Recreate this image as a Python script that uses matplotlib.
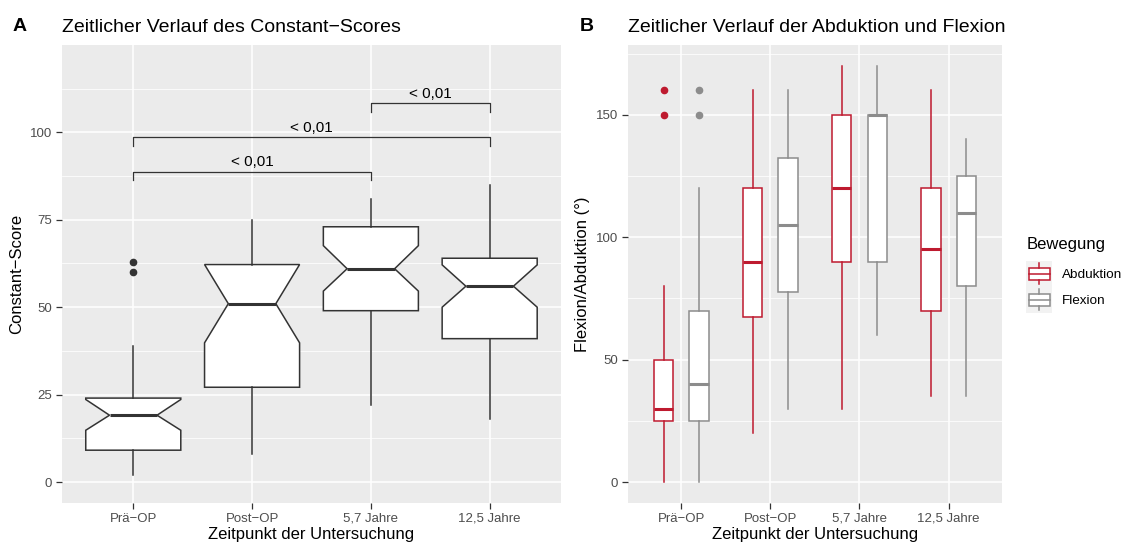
import matplotlib.pyplot as plt
from matplotlib.patches import Patch, Rectangle
from matplotlib.lines import Line2D
from matplotlib.legend_handler import HandlerBase

plt.rcParams['font.family'] = ['Liberation Sans', 'DejaVu Sans']

# Zeitpunkte der Untersuchung
zeitpunkte = ['Prä−OP', 'Post−OP', '5,7 Jahre', '12,5 Jahre']

# Constant-Score: Kennwerte der gekerbten Boxplots
cs_q1 = [9.1, 27.1, 49.0, 41.0]
cs_med = [19.1, 51.0, 61.0, 56.0]
cs_q3 = [24.0, 62.2, 73.0, 64.0]
cs_cilo = [14.8, 39.8, 54.6, 50.0]
cs_cihi = [23.6, 62.2, 67.6, 62.1]
cs_whislo = [2.1, 8.1, 22.1, 18.1]
cs_whishi = [39.0, 75.0, 80.8, 84.9]
cs_fliers = [[60.0, 63.0], [], [], []]

# Signifikanzklammern (Gruppe links, Gruppe rechts, Höhe, Beschriftung)
sig_links = [1, 1, 3]
sig_rechts = [3, 4, 4]
sig_hoehe = [88.8, 98.7, 108.4]
sig_text = ['< 0,01', '< 0,01', '< 0,01']

# Abduktion und Flexion in Grad
abd_q1 = [25, 67.5, 90, 70]
abd_med = [30, 90, 120, 95]
abd_q3 = [50, 120, 150, 120]
abd_whislo = [0, 20, 30, 35]
abd_whishi = [80, 160, 170, 160]
abd_fliers = [[150, 160], [], [], []]

flex_q1 = [25, 77.5, 90, 80]
flex_med = [40, 105, 150, 110]
flex_q3 = [70, 132.5, 150, 125]
flex_whislo = [0, 30, 60, 35]
flex_whishi = [120, 160, 170, 140]
flex_fliers = [[150, 160], [], [], []]

ROT = '#BE1A2F'
GRAU = '#8C8C8C'
DUNKEL = '#333333'


def style_axes(ax):
    ax.set_facecolor('#EBEBEB')
    for s in ax.spines.values():
        s.set_visible(False)
    ax.grid(which='major', color='white', linewidth=1.1)
    ax.grid(which='minor', color='white', linewidth=0.55)
    ax.set_axisbelow(True)
    ax.tick_params(which='major', length=4, width=0.9, color=DUNKEL,
                   labelcolor='#4D4D4D', labelsize=9.5, pad=3)
    ax.tick_params(which='minor', length=0)
    ax.set_xlim(0.4, 4.6)
    ax.set_xticks(range(1, 5))
    ax.set_xticklabels(zeitpunkte)
    ax.set_xlabel('Zeitpunkt der Untersuchung', fontsize=12, labelpad=2)


def make_stats(q1, med, q3, lo, hi, fl, cilo=None, cihi=None):
    stats = []
    for i in range(len(q1)):
        d = dict(q1=q1[i], med=med[i], q3=q3[i], whislo=lo[i], whishi=hi[i], fliers=fl[i])
        if cilo is not None:
            d['cilo'] = cilo[i]
            d['cihi'] = cihi[i]
        stats.append(d)
    return stats


def draw_boxes(ax, stats, pos, width, color, notch=False):
    ax.bxp(stats, positions=pos, widths=width, shownotches=notch, showcaps=False,
           patch_artist=True, manage_ticks=False,
           boxprops=dict(facecolor='white', edgecolor=color, linewidth=1.1),
           whiskerprops=dict(color=color, linewidth=1.1),
           medianprops=dict(color=color, linewidth=2.2, solid_capstyle='butt'),
           flierprops=dict(marker='o', markerfacecolor=color, markeredgecolor=color,
                           markersize=4.5))


class BoxKey(HandlerBase):
    def create_artists(self, legend, orig_handle, xdescent, ydescent, width, height,
                       fontsize, trans):
        col = orig_handle.get_edgecolor()
        x0, y0 = -xdescent, -ydescent
        h = height
        bg = Rectangle((x0, y0), width, h, facecolor='#F2F2F2',
                       edgecolor='none', transform=trans)
        box = Rectangle((x0 + 0.1 * width, y0 + 0.27 * h), 0.8 * width,
                        0.46 * h, facecolor='white', edgecolor=col,
                        linewidth=1.1, transform=trans)
        xm = x0 + width / 2
        w1 = Line2D([xm, xm], [y0 + 0.1 * h, y0 + 0.27 * h], color=col,
                    linewidth=1.1, transform=trans)
        w2 = Line2D([xm, xm], [y0 + 0.73 * h, y0 + 0.9 * h], color=col,
                    linewidth=1.1, transform=trans)
        med = Line2D([x0 + 0.1 * width, x0 + 0.9 * width], [y0 + h / 2] * 2,
                     color=col, linewidth=1.1, transform=trans)
        return [bg, box, w1, w2, med]


fig = plt.figure(figsize=(11.21, 5.43), dpi=100)

# Panel A: Constant-Score
ax1 = fig.add_axes([0.0553, 0.0737, 0.4451, 0.8435])
style_axes(ax1)
ax1.set_ylim(-6, 125)
ax1.set_yticks([0, 25, 50, 75, 100])
ax1.set_yticks([12.5, 37.5, 62.5, 87.5, 112.5], minor=True)
ax1.set_ylabel('Constant−Score', fontsize=12, labelpad=4)
draw_boxes(ax1, make_stats(cs_q1, cs_med, cs_q3, cs_whislo, cs_whishi, cs_fliers,
                           cs_cilo, cs_cihi),
           [1, 2, 3, 4], 0.8, DUNKEL, notch=True)
for a, b, h, t in zip(sig_links, sig_rechts, sig_hoehe, sig_text):
    ax1.plot([a, a, b, b], [h - 2.5, h, h, h - 2.5], color=DUNKEL, linewidth=0.9)
    ax1.text((a + b) / 2, h + 0.6, t, ha='center', va='bottom', fontsize=11)
ax1.set_title('Zeitlicher Verlauf des Constant−Scores', loc='left', fontsize=14, pad=9)
fig.text(0.011, 0.952, 'A', fontsize=14, fontweight='bold', va='center')

# Panel B: Abduktion und Flexion
ax2 = fig.add_axes([0.5602, 0.0737, 0.3336, 0.8435])
style_axes(ax2)
ax2.set_ylim(-8.5, 178.5)
ax2.set_yticks([0, 50, 100, 150])
ax2.set_yticks([25, 75, 125, 175], minor=True)
ax2.set_ylabel('Flexion/Abduktion (°)', fontsize=12, labelpad=4)
draw_boxes(ax2, make_stats(abd_q1, abd_med, abd_q3, abd_whislo, abd_whishi, abd_fliers),
           [i - 0.2 for i in range(1, 5)], 0.22, ROT)
draw_boxes(ax2, make_stats(flex_q1, flex_med, flex_q3, flex_whislo, flex_whishi, flex_fliers),
           [i + 0.2 for i in range(1, 5)], 0.22, GRAU)
ax2.set_title('Zeitlicher Verlauf der Abduktion und Flexion', loc='left', fontsize=14, pad=9)
fig.text(0.517, 0.952, 'B', fontsize=14, fontweight='bold', va='center')

handles = [Patch(edgecolor=ROT, facecolor='white', label='Abduktion'),
           Patch(edgecolor=GRAU, facecolor='white', label='Flexion')]
leg = fig.legend(handles=handles, handler_map={Patch: BoxKey()}, title='Bewegung',
                 loc='center left', bbox_to_anchor=(0.913, 0.494), frameon=False,
                 fontsize=9.7, title_fontsize=12, handlelength=1.93, handleheight=2.6,
                 labelspacing=0.0, handletextpad=0.75, borderaxespad=0,
                 borderpad=0.2)
leg._legend_box.align = 'left'
# etwas Abstand zwischen Legendentitel und Schlüsseln
leg._legend_box.sep = 6.5

fig.savefig('out.png', dpi=100)
